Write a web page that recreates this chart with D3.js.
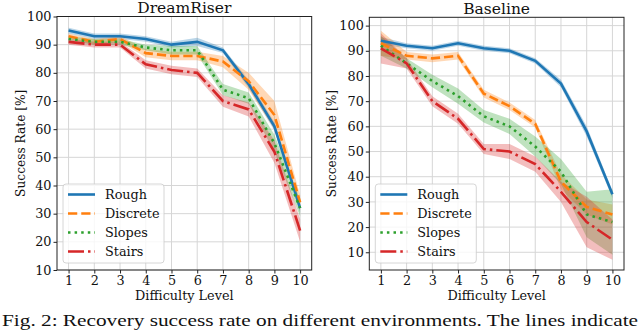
<!DOCTYPE html>
<html lang="en">
<head>
  <meta charset="UTF-8">
  <title>Recovery success rate</title>
  <script src="https://d3js.org/d3.v7.min.js"></script>
  <style>
    body { margin: 0; background: #fff; }
    svg { display: block; background: #fff; }
    text { font-family: "DejaVu Serif", serif; fill: #111; }
    .caption { font-family: "Liberation Serif", serif; }
    .grid line { stroke: #d6d6d6; stroke-width: 1; }
    .band { stroke: none; opacity: 0.3; }
    .line { fill: none; stroke-width: 2.6; }
  </style>
</head>
<body>
  <svg width="640" height="331"></svg>

  <script>
    // difficulty levels and series names
    const levels = [1, 2, 3, 4, 5, 6, 7, 8, 9, 10];
    const terrains = ["Rough", "Discrete", "Slopes", "Stairs"];
    const yTicks = [10, 20, 30, 40, 50, 60, 70, 80, 90, 100];

    // DreamRiser mean success rate (%)
    const dreamRough    = [95, 93, 93, 92, 90, 91, 88, 76, 61, 32];
    const dreamDiscrete = [93, 91, 92, 87, 86, 86, 84, 77, 65, 34];
    const dreamSlopes   = [92, 91, 91, 89, 88, 88, 74, 71, 55, 32];
    const dreamStairs   = [91, 90, 90, 83, 81, 80, 70, 67, 52, 24];
    // DreamRiser spread
    const dreamRoughSd    = [1, 1, 1, 1, 1, 1.5, 1, 1.5, 1.5, 1.5];
    const dreamDiscreteSd = [1, 1, 1, 1.5, 1.5, 1.5, 2, 3, 5, 2.5];
    const dreamSlopesSd   = [1, 1, 1, 1, 1.5, 1.5, 2, 2, 3, 3];
    const dreamStairsSd   = [1, 1, 1, 1.5, 1.5, 1.5, 2, 2.5, 4, 4];

    // Baseline mean success rate (%)
    const baseRough    = [94, 92, 91, 93, 91, 90, 86, 77, 58, 33];
    const baseDiscrete = [93, 88, 87, 88, 73, 68, 61, 38, 28, 25];
    const baseSlopes   = [92, 85, 78, 72, 64, 60, 52, 42, 25, 22];
    const baseStairs   = [91, 85, 70, 63, 51, 50, 45, 34, 22, 15];
    // Baseline spread
    const baseRoughSd    = [1.5, 1, 1, 1, 1, 1, 1, 1.5, 2, 1.5];
    const baseDiscreteSd = [5, 1.5, 1.5, 1.5, 1.5, 1.5, 1.5, 3, 3, 4];
    const baseSlopesSd   = [4, 2, 2.5, 3, 2.5, 3, 4, 5, 9, 13];
    const baseStairsSd   = [6, 2, 2, 2, 2, 3, 3, 4, 10, 8];

    const colors = d3.scaleOrdinal()
      .domain(terrains)
      .range(["#1f77b4", "#ff7f0e", "#2ca02c", "#d62728"]);

    const dashes = {
      "Rough": null,
      "Discrete": "9.25 4",
      "Slopes": "2.5 4.1",
      "Stairs": "16 4 2.5 4"
    };

    const svg = d3.select("svg");

    function drawPanel(opts) {
      const x = d3.scaleLinear().domain([0.55, 10.45]).range([opts.left, opts.right]);
      const y = d3.scaleLinear().domain(opts.yDomain).range([opts.bottom, opts.top]);
      const g = svg.append("g");

      // grid
      const grid = g.append("g").attr("class", "grid");
      grid.selectAll(".gx").data(levels).enter().append("line")
        .attr("x1", d => x(d)).attr("x2", d => x(d))
        .attr("y1", opts.top).attr("y2", opts.bottom);
      grid.selectAll(".gy").data(yTicks.filter(t => y(t) <= opts.bottom + 0.5 && y(t) >= opts.top - 0.5))
        .enter().append("line")
        .attr("y1", d => y(d)).attr("y2", d => y(d))
        .attr("x1", opts.left).attr("x2", opts.right);

      const clipId = "clip-" + opts.name;
      g.append("clipPath").attr("id", clipId).append("rect")
        .attr("x", opts.left).attr("y", opts.top)
        .attr("width", opts.right - opts.left).attr("height", opts.bottom - opts.top);

      const area = d3.area()
        .x(d => x(d.level))
        .y0(d => y(d.value - d.sd))
        .y1(d => y(d.value + d.sd));
      const line = d3.line()
        .x(d => x(d.level))
        .y(d => y(d.value));

      const plot = g.append("g").attr("clip-path", `url(#${clipId})`);
      terrains.forEach((t, i) => {
        const rows = levels.map((l, j) => ({ level: l, value: opts.means[i][j], sd: opts.sds[i][j] }));
        plot.append("path").datum(rows)
          .attr("class", "band")
          .attr("fill", colors(t))
          .attr("d", area);
      });
      terrains.forEach((t, i) => {
        const rows = levels.map((l, j) => ({ level: l, value: opts.means[i][j] }));
        plot.append("path").datum(rows)
          .attr("class", "line")
          .attr("stroke", colors(t))
          .attr("stroke-dasharray", dashes[t])
          .attr("d", line);
      });

      // axes
      const xAxis = g.append("g")
        .attr("transform", `translate(0,${opts.bottom})`)
        .call(d3.axisBottom(x).tickValues(levels).tickFormat(d3.format("d")).tickSize(3.5).tickPadding(2));
      const yAxis = g.append("g")
        .attr("transform", `translate(${opts.left},0)`)
        .call(d3.axisLeft(y).tickValues(yTicks.filter(t => t >= opts.yDomain[0])).tickSize(3.5).tickPadding(2));
      [xAxis, yAxis].forEach(a => {
        a.select(".domain").remove();
        a.selectAll("text").style("font-size", "12.8px").style("font-family", "DejaVu Serif, serif").attr("fill", "#111");
        a.selectAll("line").attr("stroke", "#222");
      });

      // frame
      g.append("rect")
        .attr("x", opts.left).attr("y", opts.top)
        .attr("width", opts.right - opts.left).attr("height", opts.bottom - opts.top)
        .attr("fill", "none").attr("stroke", "#222").attr("stroke-width", 1);

      // titles
      g.append("text")
        .attr("x", (opts.left + opts.right) / 2).attr("y", opts.top - 3.5)
        .attr("text-anchor", "middle").style("font-size", "15.5px")
        .text(opts.title);
      g.append("text")
        .attr("x", (opts.left + opts.right) / 2).attr("y", opts.bottom + 30)
        .attr("text-anchor", "middle").style("font-size", "12.8px")
        .text("Difficulty Level");
      g.append("text")
        .attr("transform", `translate(${opts.labelX},${(opts.top + opts.bottom) / 2}) rotate(-90)`)
        .attr("text-anchor", "middle").style("font-size", "12.2px")
        .text("Success Rate [%]");

      // legend
      const lx = opts.left + 6, ly = 184;
      g.append("rect")
        .attr("x", lx).attr("y", ly).attr("width", opts.legendW).attr("height", 79)
        .attr("rx", 3).attr("fill", "#fff").attr("fill-opacity", 0.8)
        .attr("stroke", "#ccc").attr("stroke-width", 0.8);
      terrains.forEach((t, i) => {
        const yy = ly + 10.5 + i * 19;
        g.append("line")
          .attr("x1", lx + 5).attr("x2", lx + 32)
          .attr("y1", yy).attr("y2", yy)
          .attr("stroke", colors(t)).attr("stroke-width", 2.6)
          .attr("stroke-dasharray", dashes[t]);
        g.append("text")
          .attr("x", lx + 42).attr("y", yy + 4.5)
          .style("font-size", "12.8px")
          .text(t);
      });
    }

    drawPanel({
      name: "dream", title: "DreamRiser",
      left: 57, right: 311.7, top: 16.5, bottom: 270,
      yDomain: [10, 100], labelX: 25, legendW: 101,
      means: [dreamRough, dreamDiscrete, dreamSlopes, dreamStairs],
      sds: [dreamRoughSd, dreamDiscreteSd, dreamSlopesSd, dreamStairsSd]
    });

    drawPanel({
      name: "base", title: "Baseline",
      left: 369.3, right: 624, top: 17.3, bottom: 270,
      yDomain: [2.96, 103.3], labelX: 336, legendW: 101,
      means: [baseRough, baseDiscrete, baseSlopes, baseStairs],
      sds: [baseRoughSd, baseDiscreteSd, baseSlopesSd, baseStairsSd]
    });

    // caption
    svg.append("text")
      .attr("class", "caption")
      .attr("x", 2).attr("y", 326)
      .attr("textLength", 636).attr("lengthAdjust", "spacingAndGlyphs")
      .style("font-size", "16px")
      .text("Fig. 2: Recovery success rate on different environments. The lines indicate");
  </script>
</body>
</html>
